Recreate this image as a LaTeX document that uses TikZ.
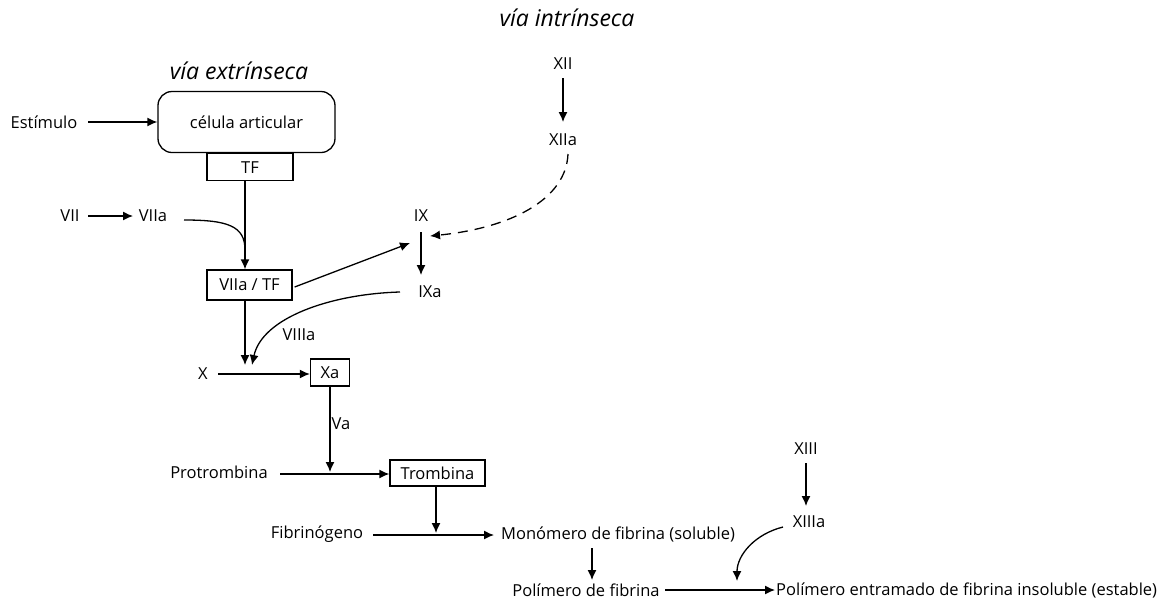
\documentclass[tikz,border=0pt]{standalone}
\usepackage{fontspec}
\setmainfont{Open Sans}
\usetikzlibrary{arrows.meta,calc}
\begin{document}
\begin{tikzpicture}[x=1pt,y=-1pt,
  font=\fontsize{16.5}{19}\selectfont,
  every node/.style={inner sep=1pt},
  ttl/.style={font=\fontsize{23}{26}\selectfont\itshape},
  bx/.style={draw,line width=1.3pt,inner sep=0pt},
  rbx/.style={draw,line width=1.3pt,rounded corners=14pt,inner sep=0pt},
  ln/.style={line width=1.3pt},
  arr/.style={line width=1.3pt,-{Latex[length=10pt,width=9pt]}},
  dsh/.style={line width=1.3pt,dash pattern=on 10pt off 7pt,-{Latex[length=10pt,width=9pt]}}]
\useasboundingbox (0,0) rectangle (1160,603);
% titles
\node[ttl] (tint) at (567,18) {vía intrínseca};
\node[ttl] (text) at (239,71) {vía extrínseca};
% nodes
\node (est) at (44,122) {Estímulo};
\node[rbx,minimum width=177pt,minimum height=61pt] (cel) at (246.5,122) {célula articular\hspace{8pt}};
\node[bx,minimum width=86pt,minimum height=27pt,anchor=north] (tf) at (250,153) {TF};
\node (vii) at (70,216) {VII};
\node (viia) at (153,216) {VIIa};
\node[bx,minimum width=85pt,minimum height=30pt] (vtf) at (249.5,285) {VIIa / TF};
\node (ix) at (421,216) {IX};
\node (ixa) at (430,292) {IXa};
\node (xii) at (563,64) {XII};
\node (xiia) at (563,140) {XIIa};
\node (viiia) at (299,335) {VIIIa};
\node (x) at (203,374) {X};
\node[bx,minimum width=39pt,minimum height=27pt] (xa) at (330,372.5) {Xa};
\node (va) at (341,424) {Va};
\node (prot) at (219,472) {Protrombina};
\node[bx,minimum width=95pt,minimum height=26pt] (trom) at (437.5,473) {Trombina};
\node (fibg) at (317,534) {Fibrinógeno};
\node[anchor=west] (mono) at (500,534) {Monómero de fibrina (soluble)};
\node (poli) at (586,590) {Polímero de fibrina};
\node[anchor=west] (pent) at (775,590) {Polímero entramado de fibrina insoluble (estable)};
\node (xiii) at (806,449) {XIII};
\node (xiiia) at (809,522) {XIIIa};
% junction coordinates
\coordinate (j1) at (245,250);
\coordinate (ixin) at (410,243);
\coordinate (jx) at (245,374);
\coordinate (jp) at (330,474);
\coordinate (jf) at (436,535);
\coordinate (jpol) at (737,590);
% connectors
\draw[arr] ($(est)+(44,0)$) -- (cel.west);
\draw[ln] (tf.south -| jx) -- (j1);
\draw[arr] (j1) -- (vtf.north -| jx);
\draw[arr] ($(vii)+(18,0)$) -- ($(viia)+(-20,0)$);
\draw[ln] ($(viia)+(31,4)$) .. controls (228,220) and (245,226) .. (j1);
\draw[arr] ($(vtf.east)+(2,2)$) -- (ixin);
\draw[arr] ($(ix)+(0,16)$) -- ($(ixa)+(-9,-17)$);
\draw[dsh] ($(xiia)+(5,14)$) .. controls (566,200) and (510,228) .. ($(ix)+(9,20)$);
\draw[arr] ($(xii)+(0,14)$) -- ($(xiia)+(0,-18)$);
\draw[arr] ($(ixa)+(-30,0)$) .. controls (330,294) and (262,318) .. ($(jx)+(7,-9)$);
\draw[arr] ($(vtf.south -| jx)$) -- ($(jx)+(0,-9)$);
\draw[arr] ($(x)+(15,0)$) -- (xa.west |- jx);
\draw[arr] (xa.south) -- ($(jp)+(0,-2)$);
\draw[arr] ($(prot)+(61,2)$) -- (trom.west |- jp);
\draw[arr] (trom.south -| jf) -- ($(jf)+(0,-2)$);
\draw[arr] ($(fibg)+(56,1)$) -- ($(mono.west |- jf)+(-6,0)$);
\draw[arr] ($(poli)+(6,-42)$) -- ($(poli)+(6,-10)$);
\draw[arr] ($(poli)+(79,0)$) -- (pent.west);
\draw[arr] ($(xiii)+(0,14)$) -- ($(xiiia)+(-3,-16)$);
\draw[arr] ($(xiiia)+(-26,5)$) .. controls (755,534) and (737,555) .. ($(jpol)+(0,-9)$);
\end{tikzpicture}
\end{document}
